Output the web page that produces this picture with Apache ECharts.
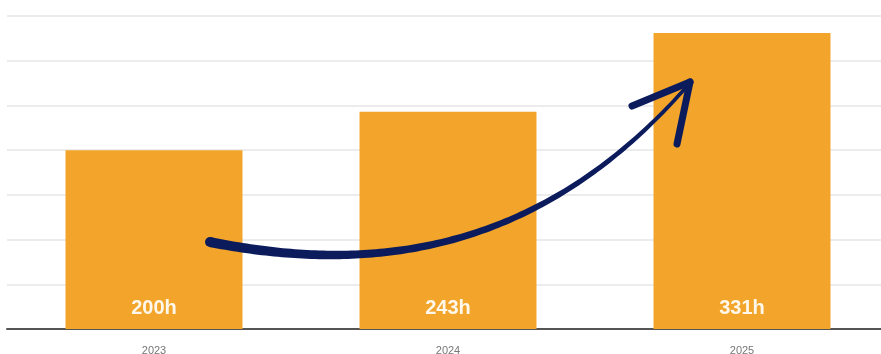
<!DOCTYPE html>
<html>
<head>
<meta charset="utf-8">
<script src="https://cdn.jsdelivr.net/npm/echarts@6/dist/echarts.min.js"></script>
<style>
  html, body { margin: 0; padding: 0; background: #ffffff; }
  #chart { width: 881px; height: 354px; }
</style>
</head>
<body>
<div id="chart"></div>
<script>
const categories = ['2023', '2024', '2025'];
const hours = [200, 243, 331];
const valueLabels = ['200h', '243h', '331h'];

// decorative hand-drawn arrow: cubic bezier control points (pixels)
const arrowBezier = [[210, 242], [370, 274], [539, 256], [689, 84]];
const arrowHead = [[[632, 106], [690, 82]], [[677, 144], [690, 82]]];

const chart = echarts.init(document.getElementById('chart'), null, { renderer: 'canvas' });

function bezierPoints(p, n) {
  const out = [];
  for (let k = 0; k <= n; k++) {
    const t = k / n, u = 1 - t;
    const a = u * u * u, b = 3 * u * u * t, c = 3 * u * t * t, d = t * t * t;
    out.push([a * p[0][0] + b * p[1][0] + c * p[2][0] + d * p[3][0],
              a * p[0][1] + b * p[1][1] + c * p[2][1] + d * p[3][1]]);
  }
  return out;
}

function taperedPolygon(pts, w0, w1) {
  const len = [0];
  for (let i = 1; i < pts.length; i++) {
    len.push(len[i - 1] + Math.hypot(pts[i][0] - pts[i - 1][0], pts[i][1] - pts[i - 1][1]));
  }
  const total = len[len.length - 1];
  const left = [], right = [];
  for (let i = 0; i < pts.length; i++) {
    const a = pts[Math.max(i - 1, 0)], b = pts[Math.min(i + 1, pts.length - 1)];
    let dx = b[0] - a[0], dy = b[1] - a[1];
    const d = Math.hypot(dx, dy) || 1;
    dx /= d; dy /= d;
    const w = (w0 + (w1 - w0) * (len[i] / total)) / 2;
    left.push([pts[i][0] - dy * w, pts[i][1] + dx * w]);
    right.push([pts[i][0] + dy * w, pts[i][1] - dx * w]);
  }
  return left.concat(right.reverse());
}

const navy = '#0b1b5c';
const curve = bezierPoints(arrowBezier, 120);

chart.setOption({
  animation: false,
  grid: { left: 7, width: 882, top: 16, bottom: 25, containLabel: false, outerBoundsMode: 'none' },
  xAxis: {
    type: 'category',
    data: categories,
    axisLine: { show: true, lineStyle: { color: '#555555', width: 2 } },
    axisTick: { show: false },
    axisLabel: { color: '#777777', fontSize: 11, margin: 16, fontFamily: 'Liberation Sans' }
  },
  yAxis: {
    type: 'value',
    min: 0,
    max: 350,
    interval: 50,
    axisLine: { show: false },
    axisTick: { show: false },
    axisLabel: { show: false },
    splitLine: { lineStyle: { color: '#e6e6e6', width: 1.5 } }
  },
  series: [{
    type: 'bar',
    data: hours,
    barWidth: '60.2%',
    itemStyle: { color: '#F2A42B' },
    label: {
      show: true,
      position: 'insideBottom',
      distance: 11,
      color: '#fff8ea',
      fontSize: 20,
      fontWeight: 'bold',
      fontFamily: 'Liberation Sans',
      formatter: p => valueLabels[p.dataIndex]
    }
  }],
  graphic: [
    {
      type: 'polygon',
      z: 100,
      shape: { points: taperedPolygon(curve, 10, 3.5) },
      style: { fill: navy }
    },
    {
      type: 'circle',
      z: 100,
      shape: { cx: arrowBezier[0][0], cy: arrowBezier[0][1], r: 5 },
      style: { fill: navy }
    }
  ].concat(arrowHead.map(seg => ({
    type: 'line',
    z: 100,
    shape: { x1: seg[0][0], y1: seg[0][1], x2: seg[1][0], y2: seg[1][1] },
    style: { stroke: navy, lineWidth: 7, lineCap: 'round' }
  })))
});
</script>
</body>
</html>
